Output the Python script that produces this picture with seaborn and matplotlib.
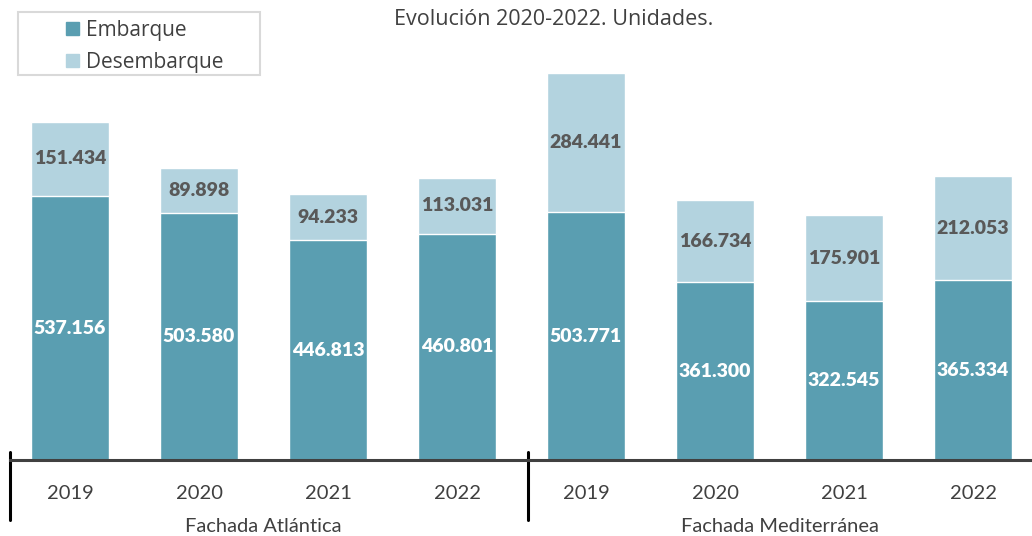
import pandas as pd
import matplotlib.pyplot as plt
import matplotlib.transforms as mtransforms
from matplotlib.patches import Patch, Rectangle
import seaborn as sns

fachadas = ['Fachada Atlántica', 'Fachada Mediterránea']
years = ['2019', '2020', '2021', '2022']
embarque = [537156, 503580, 446813, 460801, 503771, 361300, 322545, 365334]
desembarque = [151434, 89898, 94233, 113031, 284441, 166734, 175901, 212053]

dark = '#5A9EB1'
light = '#B3D3DF'

sns.set_theme(style='white')
plt.rcParams['font.family'] = ['Lato', 'DejaVu Sans']

df = pd.DataFrame({
    'key': [f'{f}-{y}' for f in fachadas for y in years],
    'embarque': embarque,
    'desembarque': desembarque,
})
df['total'] = df['embarque'] + df['desembarque']
order = list(df['key'])

fig = plt.figure(figsize=(10.32, 5.36), dpi=100)
ax = fig.add_axes([0.0097, 0.1418, 0.9903, 0.8582])

sns.barplot(data=df, x='key', y='total', order=order, color=light, width=0.6,
            saturation=1, edgecolor='white', linewidth=1, ax=ax)
sns.barplot(data=df, x='key', y='embarque', order=order, color=dark, width=0.6,
            saturation=1, edgecolor='white', linewidth=1, ax=ax)

ax.set_xlim(-0.465, 7.457)
ax.set_ylim(0, 936000)
ax.set_xlabel('')
ax.set_ylabel('')
ax.set_yticks([])
for s in ['top', 'right', 'left']:
    ax.spines[s].set_visible(False)
ax.spines['bottom'].set_color('#404040')
ax.spines['bottom'].set_linewidth(2.2)

ax.set_xticks(range(8))
ax.set_xticklabels(years * 2, fontsize=14.5, color='#404040')
ax.tick_params(axis='x', length=0, pad=18)

def fmt(v):
    return f'{v:,}'.replace(',', '.')

for i, row in df.iterrows():
    ax.text(i, row['embarque'] / 2, fmt(row['embarque']), ha='center', va='center',
            fontsize=14, fontweight='heavy', color='white')
    ax.text(i, row['embarque'] + row['desembarque'] / 2, fmt(row['desembarque']),
            ha='center', va='center', fontsize=14, fontweight='heavy', color='#595959')

trans = mtransforms.blended_transform_factory(ax.transData, ax.transAxes)
for xs in [-0.465, 3.55]:
    ax.plot([xs, xs], [0.017, -0.13], color='black', lw=2.2, transform=trans, clip_on=False)
for gi, name in enumerate(fachadas):
    ax.text(1.5 + 4 * gi, -0.145, name, transform=trans, ha='center', va='center',
            fontsize=14.5, color='#404040')

fig.text(0.537, 0.964, 'Evolución 2020-2022. Unidades.', ha='center', va='center',
         fontsize=15.5, color='#404040', family=['Open Sans', 'DejaVu Sans'])

# legend frame drawn separately so the entries can sit inside with a wide margin
fig.patches.append(Rectangle((0.0174, 0.860), 0.2346, 0.118, transform=fig.transFigure,
                             facecolor='white', edgecolor='#D9D9D9', lw=1.5, zorder=5))
handles = [Patch(color=dark, label='Embarque'), Patch(color=light, label='Desembarque')]
leg = fig.legend(handles=handles, loc='upper left', bbox_to_anchor=(0.058, 0.975),
                 prop={'family': ['Open Sans', 'DejaVu Sans'], 'size': 15},
                 frameon=False, handlelength=0.6, handleheight=0.6, handletextpad=0.35,
                 labelspacing=0.55, borderpad=0.3, borderaxespad=0)
leg.set_zorder(6)
for t in leg.get_texts():
    t.set_color('#404040')

fig.savefig('out.png', dpi=100)
